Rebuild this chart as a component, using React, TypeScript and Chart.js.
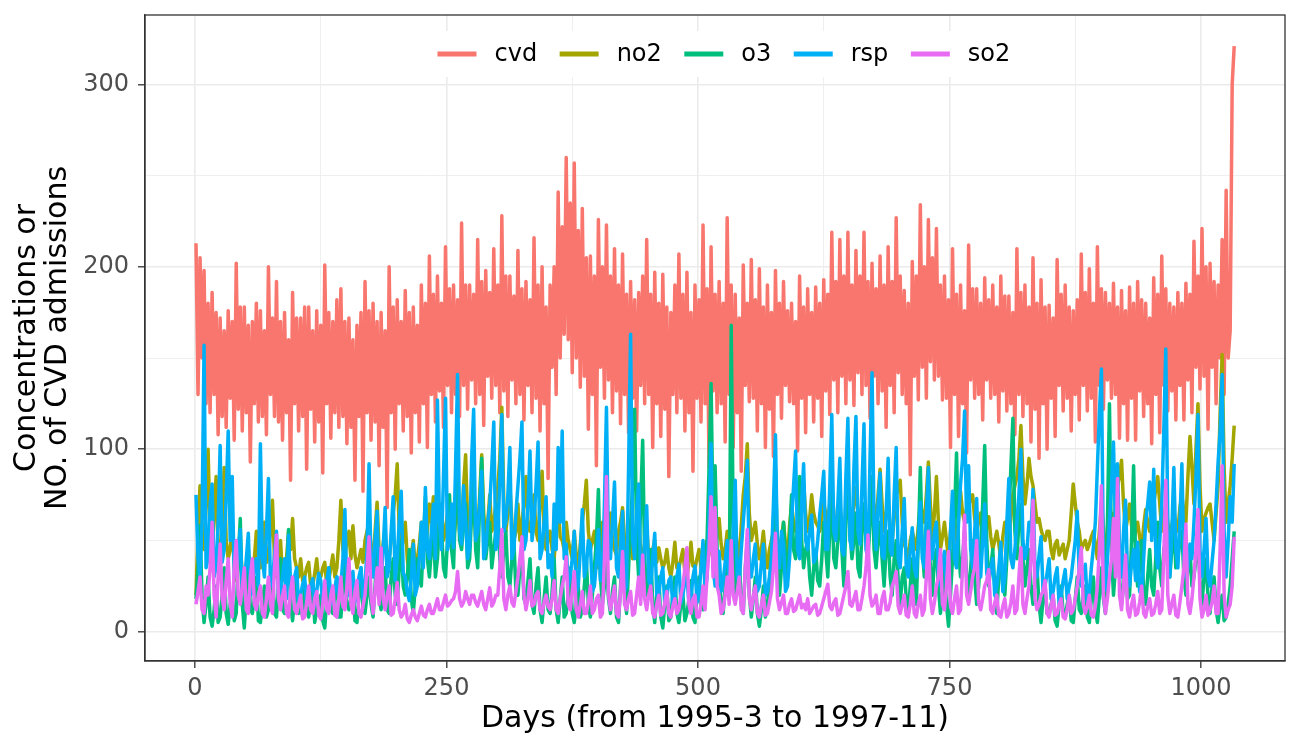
import { useEffect, useRef } from 'react';
import { Chart, registerables, type Plugin } from 'chart.js';

Chart.register(...registerables);

const FONT = "'DejaVu Sans', sans-serif";

const seriesNames = ['cvd', 'no2', 'o3', 'rsp', 'so2'];
const seriesColors = ['#F8766D', '#A3A500', '#00BF7D', '#00B0F6', '#E76BF3'];

// values, one every 2 days
const cvd = [
  213, 130, 205, 150, 198, 125, 180, 120, 186, 130, 175, 108, 172, 118, 165, 112, 176, 128, 170, 105, 202, 122, 178, 110,
  178, 120, 168, 93, 170, 125, 180, 115, 176, 118, 165, 108, 200, 130, 172, 118, 192, 115, 170, 105, 175, 120, 160, 83,
  186, 125, 172, 110, 172, 118, 178, 89, 178, 122, 165, 104, 176, 115, 168, 87, 201, 125, 175, 106, 170, 120, 182, 112,
  188, 118, 170, 103, 172, 112, 160, 83, 168, 118, 175, 77, 192, 120, 176, 105,
  180, 115, 170, 91, 175, 112, 165, 68, 200, 120, 178, 100, 182, 125, 170, 110, 187, 118, 175, 98, 178, 120, 168, 104,
  190, 125, 180, 101, 206, 130, 185, 115, 195, 132, 180, 112, 211, 135, 188, 120, 190, 130, 182, 118, 224, 135, 190, 122,
  190, 138, 185, 125, 215, 130, 192, 113, 198, 140, 186, 128, 210, 135, 190, 120, 228, 132, 195, 118, 195, 138, 184, 125,
  209, 130, 188, 116, 192, 135, 182, 120, 216, 128, 190, 110, 200, 125, 178, 84,
  190, 145, 200, 130, 241, 150, 222, 163, 260, 160, 235, 142, 257, 150, 220, 134, 232, 140, 205, 111, 206, 130, 195, 91,
  226, 145, 200, 128, 223, 138, 195, 120, 210, 132, 190, 114, 207, 130, 185, 109, 192, 128, 182, 110, 186, 135, 195, 125,
  215, 130, 185, 101, 197, 125, 180, 107, 196, 122, 178, 85, 175, 130, 190, 120, 207, 128, 185, 110, 197, 120, 175, 88,
  190, 128, 182, 115, 223, 125, 188, 90, 211, 132, 185, 120, 192, 125, 180, 104, 227, 130, 190, 101,
  185, 120, 172, 88, 201, 135, 180, 126, 204, 128, 182, 110, 199, 125, 178, 101, 190, 122, 175, 96, 198, 130, 180, 117,
  192, 135, 176, 126, 180, 125, 170, 99, 195, 128, 178, 109, 188, 130, 175, 115, 189, 128, 180, 107, 193, 132, 185, 119,
  219, 138, 192, 120, 215, 140, 195, 125, 219, 138, 190, 124, 209, 142, 195, 130, 219, 135, 192, 117, 202, 140, 188, 125,
  206, 132, 190, 112, 211, 135, 192, 120, 227, 142, 195, 130, 187, 125, 180, 86,
  203, 140, 195, 127, 234, 145, 200, 128, 226, 148, 205, 138, 221, 140, 190, 127, 195, 128, 182, 101, 210, 130, 185, 107,
  190, 125, 176, 98, 212, 138, 188, 128, 188, 130, 180, 116, 194, 138, 182, 128, 190, 130, 178, 115, 195, 132, 184, 121,
  184, 125, 175, 108, 210, 130, 186, 118, 190, 125, 178, 104, 205, 122, 180, 95, 193, 125, 178, 100, 179, 128, 172, 107,
  204, 135, 185, 121, 190, 128, 178, 110, 176, 130, 182, 116, 207, 135, 186, 121, 199, 128, 180, 104,
  211, 135, 188, 122, 186, 138, 180, 128, 191, 130, 178, 106, 187, 125, 176, 105, 189, 128, 180, 105, 192, 132, 182, 118,
  180, 125, 172, 103, 194, 130, 185, 109, 206, 135, 188, 121, 180, 132, 178, 116, 186, 135, 180, 116, 191, 138, 185, 120,
  214, 145, 195, 133, 221, 140, 200, 111, 202, 145, 192, 125, 190, 150, 215, 130, 242, 150, 165, 300, 321,
];

const no2 = [
  20, 55, 80, 50, 45, 70, 100, 55, 40, 65, 85, 45, 35, 60, 90, 50, 40, 45, 60, 35,
  28, 40, 50, 30, 25, 35, 45, 28, 30, 40, 55, 35, 35, 45, 60, 38, 40, 55, 72, 40,
  30, 38, 50, 30, 28, 40, 55, 45, 62, 40, 35, 30, 40, 28, 30, 35, 38, 25, 25, 32,
  40, 28, 30, 35, 38, 25, 28, 35, 42, 30, 35, 50, 72, 45, 40, 50, 55, 40, 58, 42,
  35, 40, 45, 38, 50, 55,
  60, 45, 40, 55, 71, 45, 35, 48, 55, 38, 40, 50, 65, 75, 92, 55, 45, 50, 60, 40,
  30, 42, 50, 35, 40, 48, 60, 45, 45, 55, 70, 60, 74, 55, 50, 62, 70, 50, 55, 65,
  60, 48, 50, 60, 75, 55, 55, 80, 97, 60, 50, 65, 70, 52, 55, 75, 97, 65, 50, 60,
  75, 55, 60, 70, 80, 95, 123, 70, 55, 65, 80, 60, 50, 55, 70, 50, 60, 70, 85, 60,
  55, 62, 75, 55, 50, 70, 88, 55, 45, 50,
  55, 45, 40, 55, 70, 52, 50, 45, 60, 50, 45, 40, 55, 42, 35, 48, 60, 70, 83, 55,
  45, 50, 55, 42, 35, 45, 60, 48, 40, 52, 65, 50, 45, 42, 55, 60, 68, 50, 40, 45,
  55, 40, 45, 50, 60, 45, 40, 48, 57, 42, 40, 45, 50, 38, 46, 40, 35, 38, 45, 35,
  30, 38, 49, 35, 35, 40, 45, 32, 30, 38, 49, 36, 35, 40, 45, 35, 40, 45, 50, 42,
  55, 48, 45, 52, 62, 48, 40, 45, 55, 50,
  45, 52, 60, 45, 40, 58, 75, 85, 103, 65, 50, 55, 60, 48, 40, 45, 55, 42, 35, 45,
  50, 55, 65, 50, 45, 52, 60, 48, 40, 58, 70, 60, 55, 62, 65, 70, 82, 65, 55, 62,
  75, 65, 60, 58, 55, 62, 70, 65, 60, 70, 80, 65, 55, 62, 70, 58, 50, 65, 75, 62,
  60, 70, 79, 65, 55, 62, 70, 60, 50, 65, 75, 68, 60, 75, 89, 70, 55, 65, 70, 58,
  50, 62, 75, 78, 83, 60, 48, 45, 40, 50,
  55, 50, 45, 58, 70, 65, 60, 75, 93, 70, 50, 65, 85, 60, 45, 52, 60, 50, 40, 55,
  65, 58, 50, 62, 77, 65, 60, 68, 70, 72, 75, 62, 55, 60, 65, 55, 50, 58, 63, 52,
  45, 50, 55, 48, 40, 52, 60, 55, 50, 62, 75, 80, 85, 95, 113, 85, 70, 80, 95, 85,
  80, 70, 60, 62, 56, 52, 50, 55, 55, 45, 40, 48, 50, 42, 45, 48, 40, 45, 50, 65,
  81, 70, 60, 55, 45, 48, 50, 45, 48, 52,
  55, 48, 40, 55, 70, 58, 45, 52, 60, 65, 55, 70, 80, 85, 94, 70, 55, 62, 70, 58,
  50, 55, 60, 52, 45, 58, 67, 60, 55, 65, 70, 78, 85, 70, 55, 62, 70, 60, 50, 58,
  65, 60, 55, 68, 75, 65, 60, 85, 107, 90, 70, 100, 125, 80, 55, 62, 65, 68, 70, 60,
  50, 65, 80, 120, 152, 90, 60, 70, 80, 95, 113,
];

const o3 = [
  18, 35, 58, 20, 5, 15, 30, 8, 3, 12, 25, 5, 8, 20, 35, 10, 4, 15, 20, 6,
  10, 40, 62, 15, 2, 20, 45, 12, 10, 18, 30, 6, 5, 14, 25, 8, 12, 22, 35, 10,
  8, 25, 40, 12, 10, 30, 56, 15, 6, 18, 30, 10, 15, 8, 25, 12, 8, 16, 28, 5,
  12, 15, 20, 6, 2, 18, 35, 12, 10, 20, 30, 8, 8, 22, 40, 15, 12, 18, 30, 6,
  5, 20, 35, 12, 10, 20,
  30, 15, 8, 25, 45, 18, 12, 28, 35, 12, 10, 30, 40, 20, 15, 35, 50, 25, 20, 30,
  45, 18, 10, 25, 40, 30, 25, 50, 74, 40, 30, 45, 55, 30, 40, 60, 58, 35, 30, 50,
  75, 45, 35, 70, 95, 50, 45, 60, 70, 35, 40, 65, 85, 45, 35, 70, 95, 55, 40, 50,
  60, 35, 45, 55, 70, 40, 30, 45, 55, 30, 25, 40, 50, 22, 20, 35, 45, 18, 15, 28,
  40, 15, 10, 25, 35, 12, 5, 18, 30, 12,
  10, 22, 40, 12, 5, 18, 30, 8, 10, 20, 35, 10, 5, 15, 25, 8, 12, 25, 40, 15,
  8, 20, 35, 50, 78, 30, 15, 25, 40, 18, 10, 22, 30, 8, 5, 25, 45, 20, 10, 35,
  60, 80, 122, 50, 30, 70, 105, 40, 20, 30, 45, 15, 5, 20, 30, 8, 2, 15, 25, 6,
  8, 20, 30, 10, 5, 15, 20, 6, 10, 18, 28, 8, 5, 20, 30, 15, 12, 30, 50, 90,
  136, 60, 91, 45, 30, 15, 10, 25, 40, 20,
  168, 60, 20, 30, 40, 15, 10, 35, 50, 20, 8, 18, 30, 10, 3, 12, 25, 8, 15, 25,
  40, 60, 90, 45, 20, 35, 60, 40, 30, 50, 75, 45, 40, 60, 85, 50, 35, 45, 50, 30,
  20, 35, 45, 28, 25, 40, 60, 45, 30, 55, 75, 40, 35, 50, 70, 45, 25, 60, 90, 55,
  40, 50, 65, 35, 30, 55, 70, 50, 40, 60, 85, 45, 35, 50, 60, 40, 25, 45, 55, 30,
  20, 40, 50, 28, 15, 30, 35, 18, 10, 25,
  40, 25, 15, 50, 90, 45, 30, 50, 60, 35, 20, 40, 45, 25, 10, 20, 35, 15, 3, 20,
  40, 65, 98, 45, 30, 40, 55, 30, 20, 35, 50, 30, 15, 25, 45, 70, 102, 50, 25, 35,
  45, 25, 10, 30, 40, 25, 20, 40, 60, 90, 117, 55, 40, 60, 70, 40, 25, 35, 45, 25,
  15, 28, 35, 15, 5, 18, 25, 10, 10, 15, 20, 6, 3, 15, 25, 10, 8, 15, 20, 6,
  5, 18, 30, 12, 10, 20, 25, 8, 5, 18,
  30, 12, 5, 20, 35, 18, 10, 60, 125, 45, 20, 35, 60, 30, 15, 25, 40, 18, 20, 50,
  91, 40, 25, 35, 50, 22, 15, 30, 45, 25, 20, 40, 60, 35, 25, 45, 50, 40, 30, 45,
  60, 35, 40, 50, 55, 30, 20, 35, 45, 25, 30, 40, 50, 28, 15, 30, 40, 18, 10, 25,
  30, 12, 5, 15, 20, 6, 8, 15, 25, 40, 55,
];

const rsp = [
  75, 40, 30, 60, 157, 35, 40, 70, 81, 30, 35, 60, 102, 38, 45, 75, 110, 50, 85, 30,
  30, 45, 56, 22, 25, 40, 54, 20, 22, 35, 40, 25, 103, 40, 30, 55, 84, 25, 28, 42,
  55, 20, 22, 30, 40, 18, 53, 25, 25, 30, 35, 15, 20, 26, 30, 15, 18, 25, 29, 14,
  22, 32, 28, 16, 20, 28, 35, 15, 18, 24, 30, 18, 25, 40, 67, 22, 20, 28, 33, 16,
  22, 30, 35, 18, 25, 45,
  92, 35, 30, 50, 66, 25, 28, 45, 68, 30, 35, 55, 74, 28, 40, 60, 77, 32, 30, 22,
  17, 30, 48, 20, 25, 40, 60, 35, 79, 45, 40, 55, 70, 40, 127, 60, 45, 85, 128, 45,
  50, 70, 46, 90, 141, 55, 48, 80, 60, 40, 46, 95, 122, 50, 55, 70, 88, 40, 45, 60,
  70, 90, 115, 45, 50, 85, 119, 55, 60, 75, 101, 40, 45, 65, 80, 95, 115, 45, 50, 70,
  99, 50, 60, 80, 104, 40, 45, 60, 74, 35,
  42, 30, 70, 45, 101, 60, 110, 40, 48, 25, 30, 40, 55, 22, 25, 45, 67, 30, 35, 50,
  48, 22, 25, 38, 56, 28, 30, 70, 123, 45, 40, 60, 82, 35, 30, 48, 66, 22, 25, 90,
  163, 50, 40, 65, 81, 30, 30, 50, 69, 28, 25, 40, 54, 20, 20, 30, 35, 15, 18, 28,
  30, 14, 17, 30, 37, 16, 20, 28, 30, 15, 18, 30, 36, 16, 20, 35, 50, 22, 30, 60,
  103, 35, 25, 40, 44, 22, 28, 38, 50, 25,
  30, 55, 83, 30, 27, 45, 60, 75, 94, 35, 30, 40, 48, 22, 25, 38, 48, 20, 22, 30,
  40, 70, 108, 40, 35, 55, 48, 22, 25, 40, 60, 80, 99, 45, 40, 70, 92, 50, 45, 55,
  64, 38, 40, 50, 64, 75, 88, 45, 45, 80, 119, 55, 50, 70, 95, 45, 42, 85, 117, 50,
  45, 90, 118, 55, 48, 80, 114, 45, 40, 95, 142, 60, 45, 70, 87, 42, 40, 65, 95, 45,
  42, 75, 101, 40, 35, 55, 73, 35, 30, 45,
  57, 35, 30, 50, 71, 40, 35, 65, 90, 45, 40, 55, 60, 30, 25, 38, 44, 25, 30, 55,
  77, 40, 35, 60, 81, 95, 121, 60, 91, 45, 35, 55, 73, 35, 30, 50, 70, 32, 28, 35,
  40, 20, 25, 35, 49, 22, 30, 60, 84, 40, 35, 45, 60, 75, 100, 50, 40, 45, 60, 55,
  78, 35, 30, 42, 52, 22, 25, 32, 40, 18, 22, 30, 35, 15, 20, 28, 34, 18, 25, 30,
  40, 50, 66, 30, 25, 30, 37, 16, 22, 35,
  46, 60, 90, 120, 144, 40, 23, 40, 60, 80, 104, 55, 92, 45, 30, 55, 72, 30, 25, 38,
  45, 28, 49, 22, 20, 40, 60, 70, 82, 50, 89, 45, 35, 50, 70, 110, 155, 60, 30, 55,
  90, 45, 35, 60, 92, 40, 30, 35, 48, 40, 60, 85, 119, 45, 30, 45, 62, 30, 25, 38,
  50, 70, 93, 110, 141, 55, 30, 50, 74, 60, 92,
];

const so2 = [
  15, 22, 30, 12, 10, 25, 20, 35, 60, 20, 8, 30, 48, 18, 12, 28, 40, 15, 8, 35,
  50, 20, 15, 25, 35, 12, 10, 30, 40, 15, 12, 20, 25, 10, 8, 18, 30, 15, 10, 35,
  53, 18, 12, 20, 25, 10, 8, 22, 30, 12, 10, 15, 20, 7, 8, 16, 25, 12, 10, 18,
  22, 9, 7, 15, 28, 12, 10, 20, 25, 9, 8, 18, 30, 14, 12, 25, 40, 15, 10, 22,
  28, 10, 8, 14, 20, 35,
  52, 20, 10, 22, 35, 15, 46, 18, 12, 20, 25, 9, 10, 18, 27, 12, 8, 10, 15, 7,
  5, 9, 12, 8, 6, 10, 14, 9, 8, 12, 15, 10, 10, 14, 18, 12, 12, 16, 20, 14,
  15, 17, 18, 22, 33, 18, 14, 16, 22, 18, 15, 20, 20, 16, 14, 18, 22, 15, 12, 18,
  24, 14, 16, 20, 20, 35, 56, 18, 12, 20, 25, 16, 14, 22, 30, 40, 52, 20, 12, 18,
  28, 14, 15, 20, 22, 12, 10, 16, 20, 14,
  12, 18, 28, 12, 10, 18, 25, 30, 41, 15, 12, 22, 33, 12, 8, 15, 22, 10, 10, 16,
  25, 10, 12, 18, 20, 8, 10, 40, 85, 20, 12, 18, 25, 10, 8, 22, 44, 15, 12, 18,
  22, 9, 10, 20, 30, 15, 42, 18, 12, 20, 25, 10, 8, 15, 20, 9, 10, 16, 22, 10,
  8, 14, 18, 10, 12, 20, 25, 35, 46, 15, 10, 18, 20, 8, 8, 15, 25, 12, 30, 45,
  74, 30, 68, 25, 20, 10, 12, 20, 30, 15,
  50, 20, 15, 22, 30, 12, 10, 35, 56, 18, 12, 20, 25, 10, 8, 15, 20, 9, 10, 16,
  22, 35, 54, 18, 12, 16, 20, 10, 10, 15, 18, 11, 12, 16, 20, 13, 15, 12, 18, 10,
  12, 14, 15, 9, 10, 14, 18, 22, 26, 14, 12, 16, 18, 9, 10, 15, 20, 25, 33, 15,
  14, 18, 22, 12, 12, 18, 25, 35, 53, 20, 14, 16, 20, 10, 10, 18, 22, 12, 12, 16,
  25, 28, 33, 14, 10, 15, 20, 9, 8, 15,
  25, 10, 8, 15, 20, 9, 12, 30, 55, 18, 10, 16, 25, 30, 45, 15, 12, 25, 44, 14,
  10, 18, 25, 10, 12, 35, 64, 20, 15, 22, 30, 35, 50, 16, 12, 18, 25, 28, 34, 12,
  10, 16, 20, 9, 8, 14, 18, 8, 10, 16, 25, 10, 12, 30, 46, 15, 10, 18, 25, 40,
  72, 18, 12, 15, 20, 22, 28, 10, 8, 14, 20, 9, 10, 15, 18, 8, 7, 12, 20, 10,
  12, 18, 25, 35, 46, 15, 10, 14, 20, 9,
  8, 14, 25, 45, 80, 20, 10, 18, 30, 40, 62, 30, 84, 20, 12, 25, 42, 12, 8, 15,
  20, 9, 10, 16, 25, 10, 8, 14, 18, 9, 10, 15, 22, 10, 12, 40, 83, 20, 10, 15,
  20, 9, 8, 16, 25, 35, 59, 15, 10, 18, 30, 45, 67, 18, 8, 12, 20, 9, 12, 16,
  25, 10, 10, 45, 91, 20, 8, 12, 15, 25, 52,
];

const seriesValues = [cvd, no2, o3, rsp, so2];

// day index of each value
const days = cvd.map((_, i) => 1 + i * 2);

const xGridTicks = [0, 125, 250, 375, 500, 625, 750, 875, 1000];
const yGridTicks = [0, 50, 100, 150, 200, 250, 300];

const panelPlugin: Plugin<'line'> = {
  id: 'panelDecor',
  afterDraw(chart) {
    const { ctx, chartArea: a } = chart;
    ctx.save();
    // legend inside the panel, on a white box
    ctx.fillStyle = '#FFFFFF';
    ctx.fillRect(427, 31, 593, 46);
    ctx.font = `24px ${FONT}`;
    ctx.textBaseline = 'middle';
    ctx.textAlign = 'left';
    let x = 437.5;
    seriesNames.forEach((name, i) => {
      ctx.strokeStyle = seriesColors[i];
      ctx.lineWidth = 5;
      ctx.lineCap = 'butt';
      ctx.beginPath();
      ctx.moveTo(x, 54);
      ctx.lineTo(x + 39, 54);
      ctx.stroke();
      ctx.fillStyle = '#000000';
      const tx = x + 39 + 18;
      ctx.fillText(name, tx, 55);
      x = tx + ctx.measureText(name).width + 22.5;
    });
    // panel border
    ctx.strokeStyle = '#333333';
    ctx.lineWidth = 1.3;
    ctx.strokeRect(a.left, a.top, a.right - a.left, a.bottom - a.top);
    ctx.restore();
  },
};

export default function App() {
  const canvasRef = useRef<HTMLCanvasElement>(null);

  useEffect(() => {
    if (!canvasRef.current) return;
    Chart.defaults.font.family = FONT;

    const chart = new Chart(canvasRef.current, {
      type: 'line',
      data: {
        datasets: seriesNames.map((name, i) => ({
          label: name,
          data: days.map((d, j) => ({ x: d, y: seriesValues[i][j] })),
          borderColor: seriesColors[i],
          backgroundColor: seriesColors[i],
          borderWidth: 3.5,
          borderJoinStyle: 'round' as const,
          pointRadius: 0,
          tension: 0,
          order: seriesNames.length - i,
        })),
      },
      options: {
        animation: false,
        responsive: false,
        layout: { padding: { top: 15, right: 15, left: 0, bottom: 0 } },
        plugins: {
          legend: { display: false },
          tooltip: { enabled: false },
        },
        scales: {
          x: {
            type: 'linear',
            min: -49.7,
            max: 1083.5,
            afterBuildTicks: (axis) => {
              axis.ticks = xGridTicks.map((v) => ({ value: v }));
            },
            afterFit: (axis) => {
              axis.height = 89;
              axis.paddingLeft = 0;
              axis.paddingRight = 0;
            },
            grid: {
              color: '#EBEBEB',
              lineWidth: (c) => (c.tick && c.tick.value % 250 === 0 ? 1.6 : 0.8),
              tickColor: (c) => (c.tick && c.tick.value % 250 === 0 ? '#333333' : 'rgba(0,0,0,0)'),
              tickLength: 7,
              tickWidth: 1.3,
            },
            border: { display: true, color: '#333333', width: 1.3 },
            ticks: {
              autoSkip: false,
              maxRotation: 0,
              padding: 6,
              color: '#4D4D4D',
              font: { size: 24, family: FONT },
              callback: (v) => (Number(v) % 250 === 0 ? String(v) : ''),
            },
            title: {
              display: true,
              text: 'Days (from 1995-3 to 1997-11)',
              color: '#000000',
              font: { size: 30, family: FONT },
              padding: { top: 0, bottom: 13 },
            },
          },
          y: {
            type: 'linear',
            min: -16.1,
            max: 338.1,
            afterBuildTicks: (axis) => {
              axis.ticks = yGridTicks.map((v) => ({ value: v }));
            },
            afterFit: (axis) => {
              axis.width = 145;
              axis.paddingTop = 0;
              axis.paddingBottom = 0;
            },
            grid: {
              color: '#EBEBEB',
              lineWidth: (c) => (c.tick && c.tick.value % 100 === 0 ? 1.6 : 0.8),
              tickColor: (c) => (c.tick && c.tick.value % 100 === 0 ? '#333333' : 'rgba(0,0,0,0)'),
              tickLength: 7,
              tickWidth: 1.3,
            },
            border: { display: true, color: '#333333', width: 1.3 },
            ticks: {
              autoSkip: false,
              padding: 9,
              color: '#4D4D4D',
              font: { size: 24, family: FONT },
              callback: (v) => (Number(v) % 100 === 0 ? String(v) : ''),
            },
            title: {
              display: true,
              text: ['Concentrations or', 'NO. of CVD admissions'],
              color: '#000000',
              font: { size: 30, family: FONT, lineHeight: 1.03 },
              padding: { top: 11.5, bottom: 0 },
            },
          },
        },
      },
      plugins: [panelPlugin],
    });

    return () => {
      chart.destroy();
    };
  }, []);

  return (
    <div style={{ position: 'absolute', left: 0, top: 0, width: 1300, height: 750, background: '#FFFFFF' }}>
      <canvas ref={canvasRef} width={1300} height={750} style={{ display: 'block' }} />
    </div>
  );
}
